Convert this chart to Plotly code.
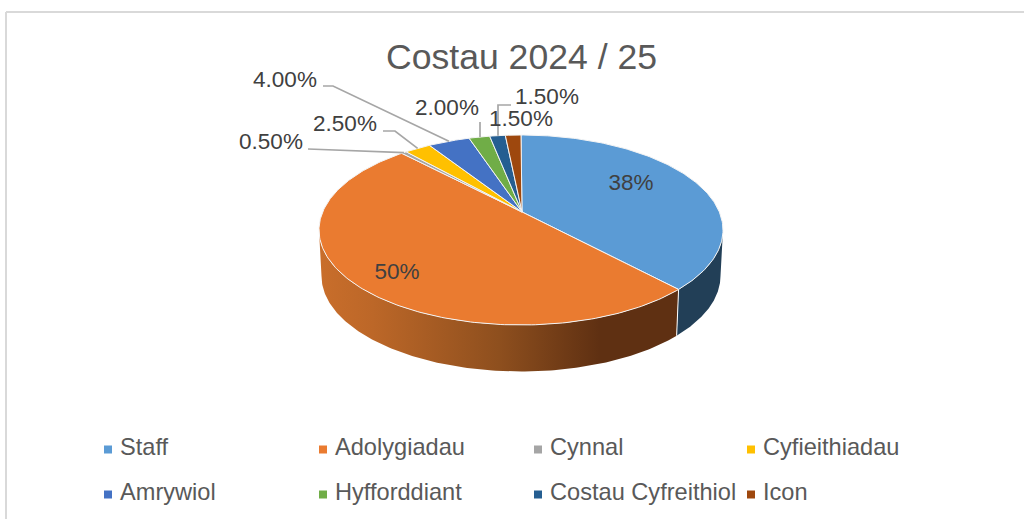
import numpy as np
import plotly.graph_objects as go

# ---- data ----
title_text = "Costau 2024 / 25"
categories = ["Staff", "Adolygiadau", "Cynnal", "Cyfieithiadau",
              "Amrywiol", "Hyfforddiant", "Costau Cyfreithiol", "Icon"]
values = [38.0, 50.0, 0.5, 2.5, 4.0, 2.0, 1.5, 1.5]
value_labels = ["38%", "50%", "0.50%", "2.50%", "4.00%", "2.00%", "1.50%", "1.50%"]

# ---- style ----
colors = ["#5B9BD5", "#EA7B30", "#A5A5A5", "#FFC000",
          "#4472C4", "#70AD47", "#255E91", "#9E480E"]
FONT = "Liberation Sans"
LABEL_SIZE = 22.5
LEGEND_SIZE = 23.6

# ---- pie geometry (perspective disc, in the 1024x519 axis space) ----
CX, CY, RX, RY = 521.0, 230.0, 202.0, 95.0       # top face outline
BCX, BCY, BRX, BRY = 521.0, 276.0, 199.5, 95.5   # bottom face outline
K = 0.19                                         # perspective shift of the apex


def project(theta, cx=CX, cy=CY, rx=RX, ry=RY):
    """theta: clockwise angle from 12 o'clock, in radians."""
    u, v = np.sin(theta), np.cos(theta)
    d = 1 + K * v
    return cx + rx * u * np.sqrt(1 - K * K) / d, cy - ry * (v + K) / d


def pct_to_angle(p):
    return np.asarray(p) / 100.0 * 2 * np.pi


edges = np.concatenate([[0.0], np.cumsum(values)])
# angle at which the disc outline is widest: the side wall is visible below it
right_limit = np.pi - np.arccos(K)
left_limit = np.pi + np.arccos(K)

fig = go.Figure()


def add_wall(a0, a1, name, **fill):
    t = np.linspace(a0, a1, 160)
    xt, yt = project(t)
    xb, yb = project(t, BCX, BCY, BRX, BRY)
    fig.add_trace(go.Scatter(
        x=np.concatenate([xt, xb[::-1]]), y=np.concatenate([yt, yb[::-1]]),
        mode="lines", fill="toself", line=dict(width=0, color="rgba(0,0,0,0)"),
        hoverinfo="skip", name=name, **fill))


# side walls (only Staff and Adolygiadau reach the front of the disc)
a_staff_end = pct_to_angle(edges[1])
add_wall(right_limit, a_staff_end, "Staff wall", fillcolor="#223F57")
add_wall(a_staff_end, left_limit, "Adolygiadau wall",
         fillcolor="#8A4A1C",
         fillgradient=dict(type="horizontal", colorscale=[
             [0.0, "#C96E2B"], [0.15, "#BC6728"], [0.5, "#8E4F1E"],
             [0.78, "#5F3012"], [1.0, "#5F3012"]]))
# white seam between the two walls
xs0, ys0 = project(a_staff_end)
xs1, ys1 = project(a_staff_end, BCX, BCY, BRX, BRY)
fig.add_trace(go.Scatter(x=[xs0, xs1], y=[ys0, ys1], mode="lines",
                         line=dict(color="#FFFFFF", width=1), hoverinfo="skip"))

# top faces
apex_x, apex_y = CX + 1, CY - RY * K
for name, val, col, p0, p1 in zip(categories, values, colors, edges[:-1], edges[1:]):
    n = max(int(val * 4), 6)
    t = np.linspace(pct_to_angle(p0), pct_to_angle(p1), n)
    xa, ya = project(t)
    fig.add_trace(go.Scatter(
        x=np.concatenate([[apex_x], xa, [apex_x]]),
        y=np.concatenate([[apex_y], ya, [apex_y]]),
        mode="lines", fill="toself", fillcolor=col,
        line=dict(color="#F4F4F4", width=1),
        name=name, hoverinfo="text", text=f"{name}: {val:g}%"))

# leader lines: start near the label, end at the middle of the slice's rim
leader_starts = {
    2: [(308, 149)],
    3: [(383, 131), (395, 131)],
    4: [(323, 86), (333, 86)],
    5: [(480, 122)],
    6: [(511, 105), (498, 105)],
}
for i, pts in leader_starts.items():
    ex, ey = project(pct_to_angle((edges[i] + edges[i + 1]) / 2))
    if i in (5, 6):
        ex = pts[-1][0]
    fig.add_trace(go.Scatter(
        x=[p[0] for p in pts] + [ex], y=[p[1] for p in pts] + [ey],
        mode="lines", line=dict(color="#A6A6A6", width=1.7), hoverinfo="skip"))

# value labels
label_x = [631, 397, 271, 345, 285, 447, 547, 521]
label_y = [184.5, 273.5, 143.5, 125.5, 81.5, 109.5, 98.5, 120.5]
fig.add_trace(go.Scatter(
    x=label_x, y=label_y, mode="text", text=value_labels,
    textposition="middle center", hoverinfo="skip",
    textfont=dict(family=FONT, size=LABEL_SIZE, color="#404040")))

# legend block (two rows of four)
col_x = [108, 323, 538, 751]
row_y = [449.5, 494.5]
lx = [col_x[i % 4] for i in range(len(categories))]
ly = [row_y[i // 4] for i in range(len(categories))]
fig.add_trace(go.Scatter(
    x=lx, y=ly, mode="markers",
    marker=dict(symbol="square", size=8, color=colors, line=dict(width=0)),
    hoverinfo="skip"))
fig.add_trace(go.Scatter(
    x=[v + 12 for v in lx], y=ly, mode="text", text=categories,
    textposition="middle right", hoverinfo="skip",
    textfont=dict(family=FONT, size=LEGEND_SIZE, color="#595959")))

fig.update_layout(
    width=1024, height=519,
    margin=dict(l=0, r=0, t=0, b=0),
    paper_bgcolor="#FFFFFF", plot_bgcolor="#FFFFFF",
    showlegend=False,
    title=dict(text=title_text, x=521.5 / 1024, y=1 - 57 / 519,
               xanchor="center", yanchor="middle", xref="paper", yref="paper",
               font=dict(family=FONT, size=35.6, color="#595959")),
    xaxis=dict(range=[0, 1024], visible=False, fixedrange=True),
    yaxis=dict(range=[519, 0], visible=False, fixedrange=True),
    shapes=[
        dict(type="line", xref="x", yref="y", x0=6, x1=1024, y0=12, y1=12,
             line=dict(color="#D9D9D9", width=2), layer="below"),
        dict(type="line", xref="x", yref="y", x0=6, x1=6, y0=12, y1=519,
             line=dict(color="#D9D9D9", width=2), layer="below"),
    ],
)

fig.write_html("out.html", config=dict(displayModeBar=False),
               post_script="document.body.style.margin='0';document.documentElement.style.overflow='hidden';")
